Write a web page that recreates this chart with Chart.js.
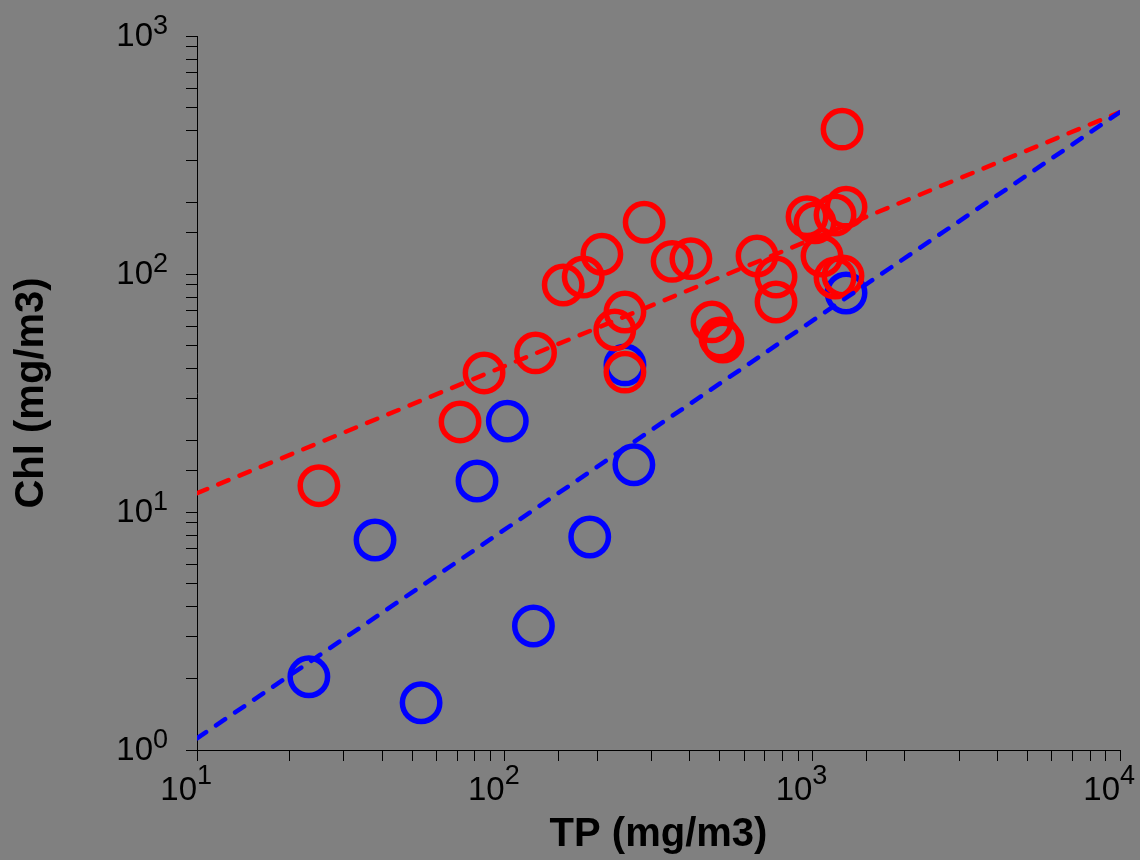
<!DOCTYPE html>
<html lang="en">

<head>
    <meta charset="UTF-8">
    <title>Chl vs TP</title>
    <script src="https://cdn.jsdelivr.net/npm/chart.js"></script>
    <style>
        body {
            margin: 0;
            background: #808080;
            overflow: hidden;
        }

        .grafico {
            position: relative;
            width: 1140px;
            height: 860px;
        }
    </style>
</head>

<body>

    <div class="grafico">
        <canvas id="myChart"></canvas>
    </div>

</body>

</html>

<script>

    // dados
    const redTP = [24.9, 71.6, 85.7, 126, 155, 180, 207, 228, 246, 246, 284, 350, 403, 472, 501, 512, 661, 762, 762, 961, 1020, 1075, 1185, 1287, 1185, 1258, 1249];
    const redChl = [12.9, 23.9, 38.4, 46.6, 89.9, 97.1, 121, 58.2, 69.2, 38.7, 165, 113, 116, 62.9, 53.8, 51.8, 119, 97.1, 76.3, 174, 164, 119, 177, 191, 96.2, 98.1, 406];

    const blueTP = [23.1, 37.9, 53.5, 81.3, 102, 124, 189, 246, 263, 1287];
    const blueChl = [2.03, 7.63, 1.58, 13.5, 24.1, 3.32, 7.85, 41.5, 15.8, 83.2];

    // linhas de ajuste (extremos em x = 10 e x = 10^4)
    const lineTP = [10, 10000];
    const redLineChl = [12.0, 479];
    const blueLineChl = [1.12, 479];

    // expoentes dos rotulos dos eixos
    const xExponents = [1, 2, 3, 4];
    const yExponents = [0, 1, 2, 3];

    function pares(xs, ys) {
        return xs.map((v, i) => ({ x: v, y: ys[i] }));
    }

    const fonte = '"Liberation Sans", Arial, sans-serif';

    // desenha 10^n com expoente elevado
    const rotulos = {
        id: 'rotulos',
        afterDraw(chart) {
            const ctx = chart.ctx;
            const area = chart.chartArea;
            const sx = chart.scales.x;
            const sy = chart.scales.y;
            ctx.save();
            ctx.fillStyle = '#000';
            ctx.textBaseline = 'alphabetic';

            xExponents.forEach(e => {
                const px = sx.getPixelForValue(Math.pow(10, e));
                ctx.font = '33px ' + fonte;
                ctx.textAlign = 'right';
                ctx.fillText('10', px, area.bottom + 50);
                ctx.font = '27px ' + fonte;
                ctx.textAlign = 'left';
                ctx.fillText(String(e), px, area.bottom + 34);
            });

            yExponents.forEach(e => {
                const py = sy.getPixelForValue(Math.pow(10, e));
                const right = area.left - 44;
                ctx.font = '33px ' + fonte;
                ctx.textAlign = 'right';
                ctx.fillText('10', right, py + 10);
                ctx.font = '27px ' + fonte;
                ctx.textAlign = 'left';
                ctx.fillText(String(e), right, py - 2);
            });
            ctx.restore();
        }
    };

    const linha = {
        showLine: true,
        pointRadius: 0,
        borderWidth: 4.5,
        borderDash: [11, 12],
        borderCapStyle: 'round',
        fill: false
    };

    const circulo = {
        showLine: false,
        pointRadius: 18.7,
        pointBorderWidth: 5.5,
        pointBackgroundColor: 'rgba(0,0,0,0)'
    };

    const data = {
        datasets: [
            Object.assign({}, linha, {
                label: 'ajuste azul',
                data: pares(lineTP, blueLineChl),
                borderColor: '#0000ff',
                order: 0
            }),
            Object.assign({}, linha, {
                label: 'ajuste vermelho',
                data: pares(lineTP, redLineChl),
                borderColor: '#ff0000',
                order: 1
            }),
            Object.assign({}, circulo, {
                label: 'vermelho',
                data: pares(redTP, redChl),
                pointBorderColor: '#ff0000',
                borderColor: '#ff0000',
                order: 2
            }),
            Object.assign({}, circulo, {
                label: 'azul',
                data: pares(blueTP, blueChl),
                pointBorderColor: '#0000ff',
                borderColor: '#0000ff',
                order: 3
            })
        ]
    };

    const eixo = {
        type: 'logarithmic',
        grid: {
            drawOnChartArea: false,
            drawTicks: true,
            tickLength: 11,
            color: '#000',
            lineWidth: 1
        },
        border: { display: true, color: '#000', width: 1 },
        ticks: { display: false }
    };

    const config = {
        type: 'scatter',
        data: data,
        options: {
            responsive: true,
            maintainAspectRatio: false,
            animation: false,
            layout: {
                autoPadding: false,
                padding: { top: 36, right: 20, bottom: 0, left: 0 }
            },
            plugins: {
                legend: { display: false },
                tooltip: { enabled: false }
            },
            scales: {
                x: Object.assign({}, eixo, {
                    min: 10,
                    max: 10000,
                    title: {
                        display: true,
                        text: 'TP (mg/m3)',
                        color: '#000',
                        font: { family: fonte, size: 40, weight: 'bold' },
                        padding: { top: 0, bottom: 1 }
                    },
                    afterFit: s => { s.height = 110; }
                }),
                y: Object.assign({}, eixo, {
                    min: 1,
                    max: 1000,
                    title: {
                        display: true,
                        text: 'Chl (mg/m3)',
                        color: '#000',
                        font: { family: fonte, size: 40, weight: 'bold' },
                        padding: { top: 8, bottom: 0 }
                    },
                    afterFit: s => { s.width = 197; }
                })
            }
        },
        plugins: [rotulos]
    };

    const myChart = new Chart(
        document.getElementById('myChart'),
        config
    );

</script>
